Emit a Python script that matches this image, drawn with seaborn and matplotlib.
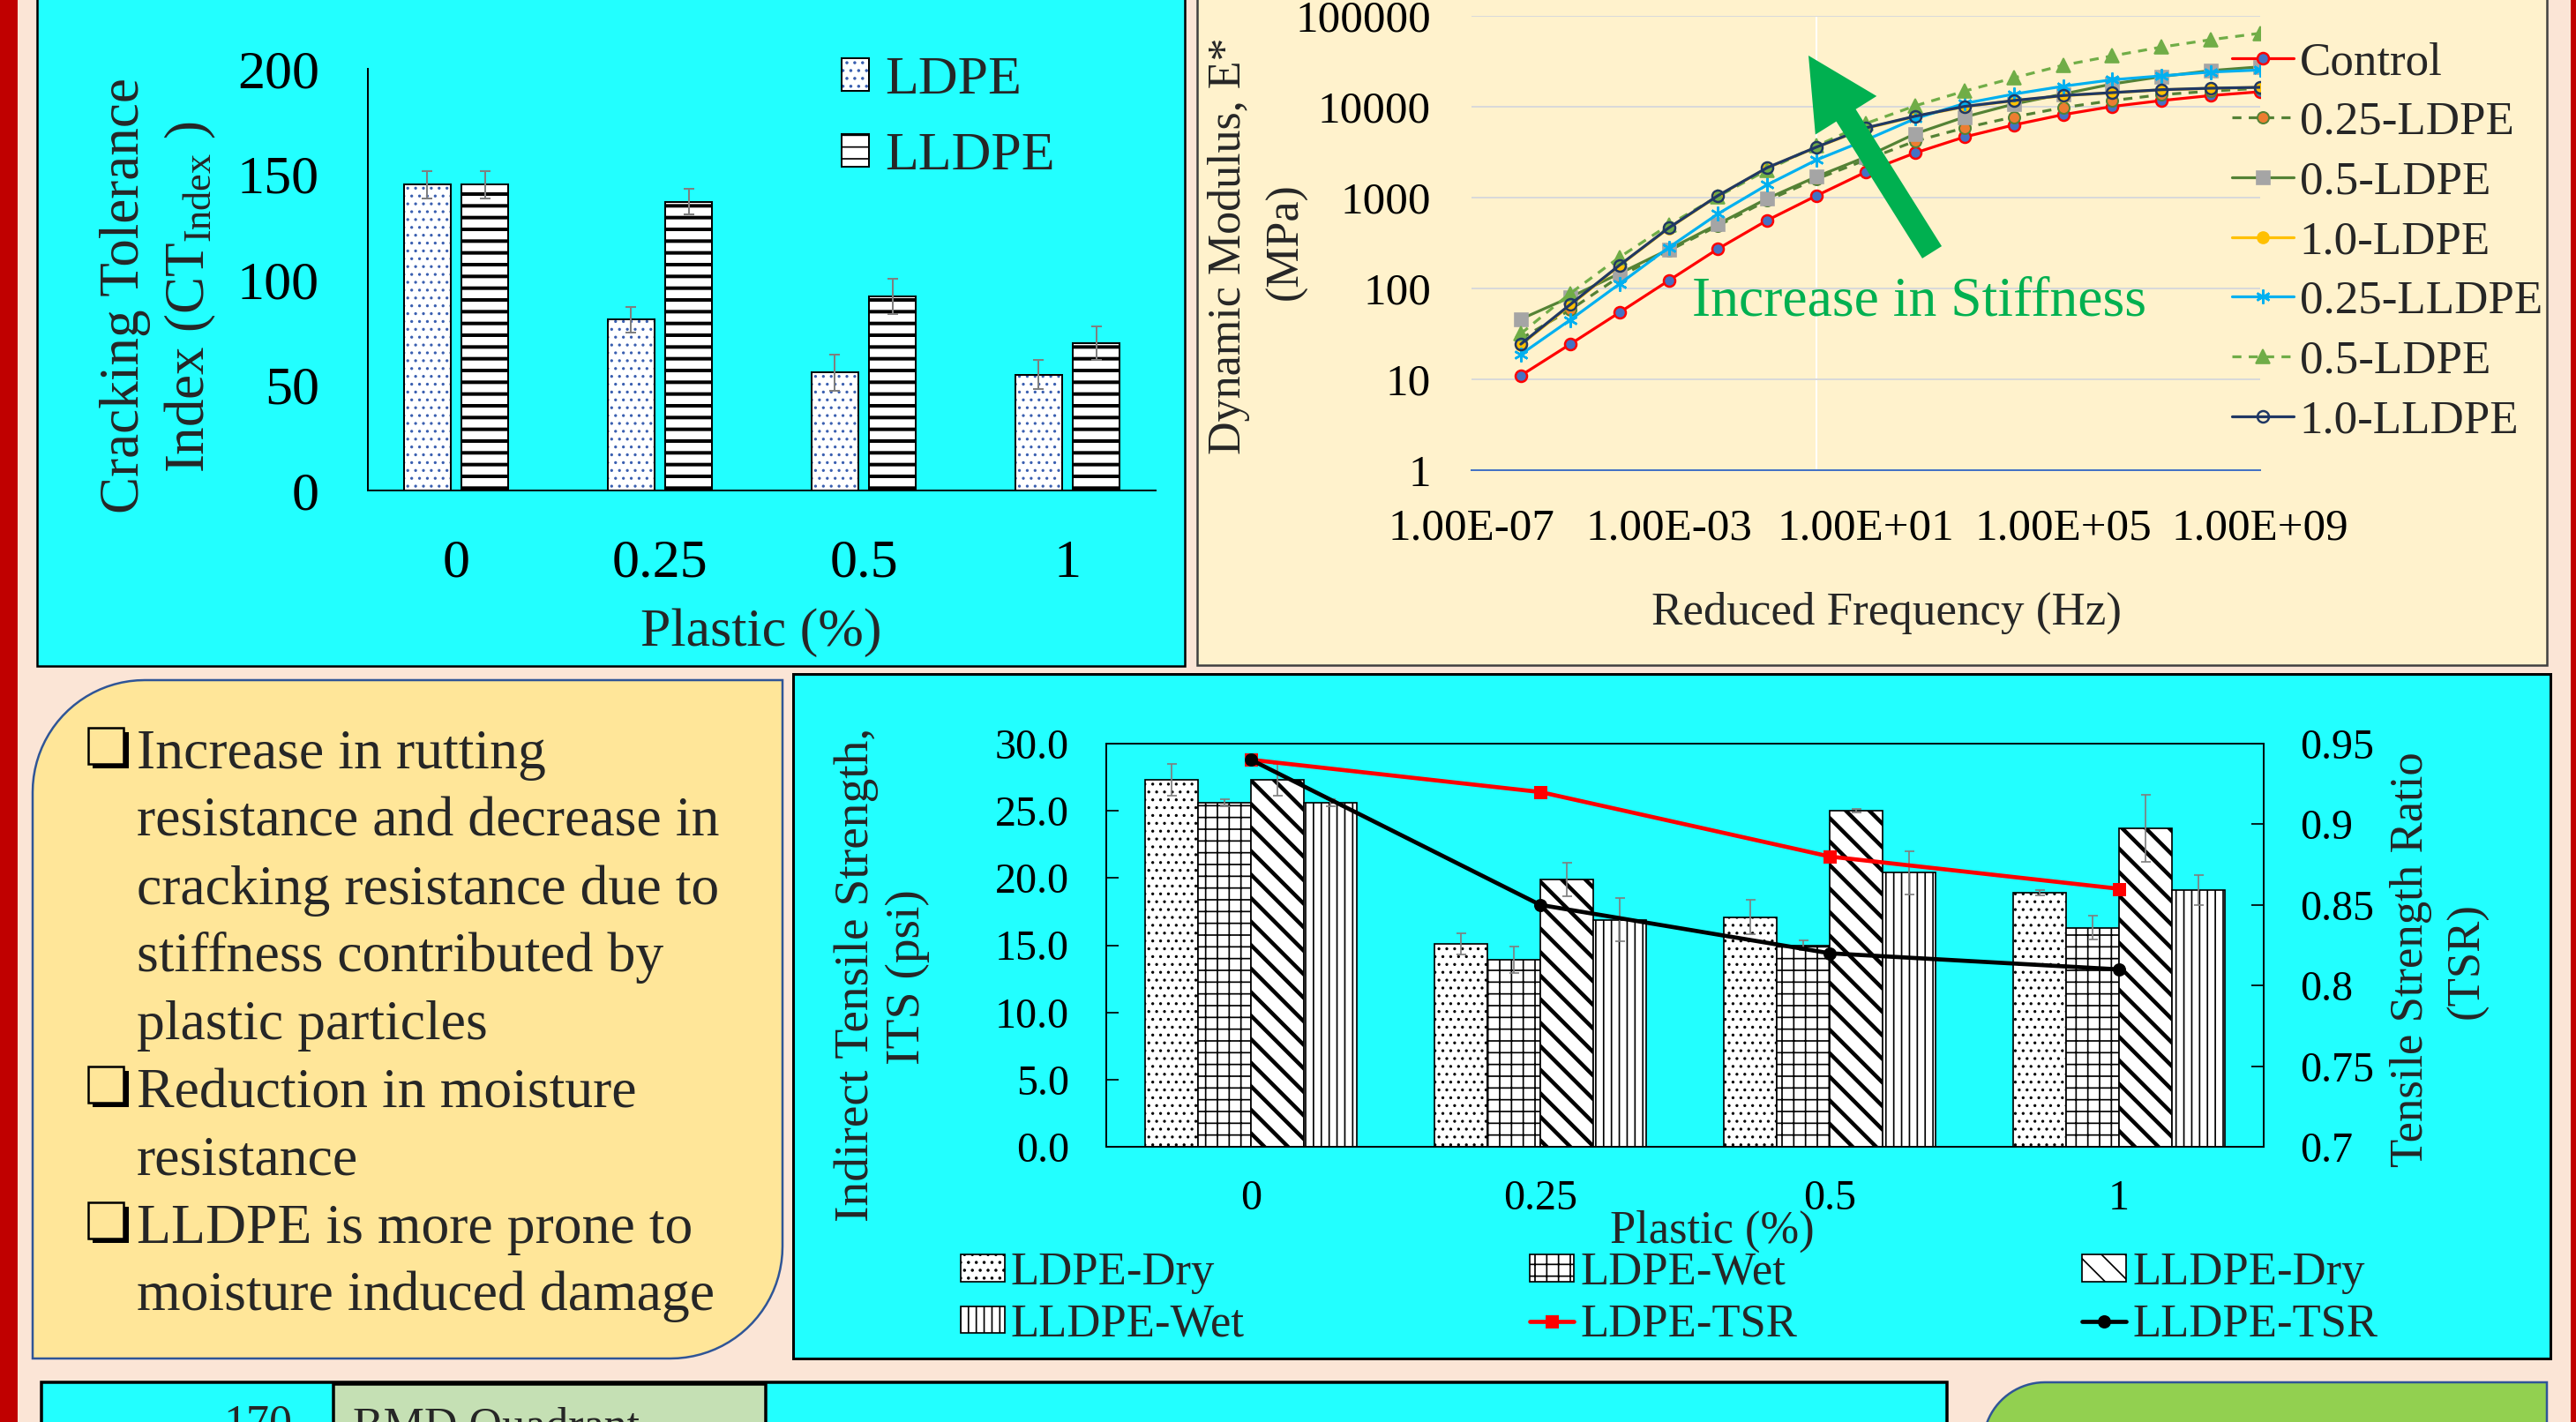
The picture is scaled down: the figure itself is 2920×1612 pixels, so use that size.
import numpy as np
import pandas as pd
import matplotlib
matplotlib.use("Agg")
import matplotlib.pyplot as plt
import seaborn as sns
from matplotlib.patches import Rectangle, PathPatch, FancyArrow, Patch
from matplotlib.path import Path
from matplotlib.ticker import NullLocator


# poster section: CT index, dynamic modulus master curves, ITS / TSR

W, H = 2920, 1612
DPI = 160

plastic = ['0', '0.25', '0.5', '1']

# cracking tolerance index
ct_ldpe = [145, 81, 56, 55]
ct_ldpe_err = [6.5, 6.2, 8.6, 7.0]
ct_lldpe = [145, 137, 92, 70]
ct_lldpe_err = [6.5, 6.0, 8.5, 8.0]

# dynamic modulus master curves (MPa)
freq = [1e-6, 1e-5, 1e-4, 1e-3, 1e-2, 1e-1, 1e0, 1e1,
        1e2, 1e3, 1e4, 1e5, 1e6, 1e7, 1e8, 1e9]
e_control = [11.0, 24.3, 54.3, 122, 273, 563, 1050, 1914,
             3105, 4645, 6300, 8180, 10070, 11700, 13280, 14630]
e_ldpe025 = [28, 58, 135, 260, 490, 930, 1600, 2600,
             4180, 5850, 7710, 9780, 11700, 13580, 14850, 16000]
e_ldpe05 = [46, 80, 146, 269, 511, 977, 1700, 2800,
            5040, 7700, 10700, 13800, 17800, 21500, 25000, 27500]
e_ldpe10 = [24.0, 65, 178, 460, 1045, 2120, 3580, 5800,
            7800, 10000, 11650, 13200, 14250, 15350, 15950, 16300]
e_lldpe025 = [18.8, 45, 112, 282, 663, 1385, 2600, 4300,
              7400, 10860, 13770, 16800, 19800, 21870, 24100, 25400]
e_lldpe05 = [31.8, 88, 220, 500, 1030, 2014, 3700, 6540,
             10230, 14850, 20760, 28600, 36300, 45400, 54700, 64400]
e_lldpe10 = [24.4, 66.4, 180, 464, 1052, 2137, 3600, 5850,
             7870, 10070, 11700, 13280, 14300, 15400, 16000, 16360]
freq_ticks = [1e-7, 1e-3, 1e1, 1e5, 1e9]
freq_tick_labels = ['1.00E-07', '1.00E-03', '1.00E+01', '1.00E+05', '1.00E+09']
mod_ticks = [1, 10, 100, 1000, 10000, 100000]

# indirect tensile strength (psi) and TSR
its_ldpe_dry = [27.3, 15.1, 17.1, 18.9]
its_ldpe_dry_err = [1.2, 0.8, 1.25, 0.2]
its_ldpe_wet = [25.6, 13.9, 15.0, 16.3]
its_ldpe_wet_err = [0.25, 1.0, 0.35, 0.9]
its_lldpe_dry = [27.3, 19.9, 25.0, 23.7]
its_lldpe_dry_err = [1.2, 1.25, 0.15, 2.5]
its_lldpe_wet = [25.6, 16.9, 20.4, 19.1]
its_lldpe_wet_err = [0.25, 1.6, 1.6, 1.1]
tsr_ldpe = [0.94, 0.92, 0.88, 0.86]
tsr_lldpe = [0.94, 0.85, 0.82, 0.81]

box_lines = ['Increase in rutting', 'resistance and decrease in',
             'cracking resistance due to', 'stiffness contributed by',
             'plastic particles', 'Reduction in moisture', 'resistance',
             'LLDPE is more prone to', 'moisture induced damage']
bullet_rows = [0, 5, 7]


def pt(px):
    return px * 72.0 / DPI


def fig_rect(left, top, right, bottom):
    return [left / W, 1 - bottom / H, (right - left) / W, (bottom - top) / H]


def ptext(x, y, s, **kw):
    return fig.text(x / W, 1 - y / H, s, **kw)


def corner_box(x0, y0, x1, y1, r, br=True):
    t = np.linspace(np.pi, 1.5 * np.pi, 24)
    verts = [(x0 + r + r * np.cos(a), y0 + r + r * np.sin(a)) for a in t]
    verts.append((x1, y0))
    if br:
        t = np.linspace(0, 0.5 * np.pi, 24)
        verts += [(x1 - r + r * np.cos(a), y1 - r + r * np.sin(a)) for a in t]
    else:
        verts.append((x1, y1))
    verts.append((x0, y1))
    verts.append(verts[0])
    codes = [Path.MOVETO] + [Path.LINETO] * (len(verts) - 2) + [Path.CLOSEPOLY]
    return Path(verts, codes)


def set_hatch(p, hatch, color, hlw):
    p.set_hatch(hatch)
    p.set_edgecolor(color)
    if hasattr(p, 'set_hatch_linewidth'):
        p.set_hatch_linewidth(hlw)


sns.set_style('white')
plt.rcParams['font.family'] = ['Liberation Serif', 'DejaVu Serif']
plt.rcParams['mathtext.fontset'] = 'custom'
plt.rcParams['mathtext.rm'] = 'Liberation Serif'
plt.rcParams['mathtext.it'] = 'Liberation Serif:italic'
plt.rcParams['hatch.linewidth'] = pt(1.7)

fig = plt.figure(figsize=(W / DPI, H / DPI), dpi=DPI)
fig.patch.set_facecolor('#FBE5D6')

# ---- background panels ----
bg = fig.add_axes([0, 0, 1, 1], zorder=-5)
bg.set_xlim(0, W)
bg.set_ylim(H, 0)
bg.axis('off')

cyan = '#22FFFF'
bg.add_patch(Rectangle((0, -5), 20, H + 10, fc='#C00000', ec='none'))
bg.add_patch(Rectangle((2914, -5), 10, H + 10, fc='#C00000', ec='none'))
bg.add_patch(Rectangle((42, -10), 1301, 765, fc=cyan, ec='black', lw=pt(2.5)))
bg.add_patch(Rectangle((1357, -10), 1530, 764, fc='#FFF2CC', ec='#404040', lw=pt(2.5)))
bg.add_patch(PathPatch(corner_box(37, 771, 887, 1540, 127), fc='#FFE699',
                       ec='#2F5597', lw=pt(2.5)))
bg.add_patch(Rectangle((899, 764), 1992, 776, fc=cyan, ec='black', lw=pt(3)))
bg.add_patch(Rectangle((47, 1567), 2160, 80, fc=cyan, ec='black', lw=pt(3.5)))
bg.add_patch(Rectangle((378, 1569), 490, 80, fc='#C5E0B4', ec='black', lw=pt(3.5)))
bg.add_patch(PathPatch(corner_box(2248, 1567, 2887, 1660, 70, br=False),
                       fc='#92D050', ec='#2F5597', lw=pt(2.5)))

# ---- chart 1: cracking tolerance index ----
ax1 = fig.add_axes(fig_rect(417, 78, 1310, 556))
ax1.set_facecolor('none')
ct_df = pd.DataFrame({'plastic': plastic * 2,
                      'ct': ct_ldpe + ct_lldpe,
                      'mix': ['LDPE'] * 4 + ['LLDPE'] * 4})
sns.barplot(data=ct_df, x='plastic', y='ct', hue='mix', order=plastic,
            hue_order=['LDPE', 'LLDPE'], palette=['white', 'white'],
            saturation=1, width=0.568, gap=0.19, errorbar=None,
            legend=False, ax=ax1)
dot_blue = '#3A5FB0'
for bar in ax1.containers[0]:
    bar.set_linewidth(0)
    set_hatch(bar, '...', dot_blue, pt(1.5))
    ax1.add_patch(Rectangle(bar.get_xy(), bar.get_width(), bar.get_height(),
                            fill=False, ec='black', lw=pt(2), zorder=1.5))
for bar in ax1.containers[1]:
    bar.set_linewidth(pt(2))
    set_hatch(bar, '--', 'black', pt(4))
for cont, vals, errs in ((ax1.containers[0], ct_ldpe, ct_ldpe_err),
                         (ax1.containers[1], ct_lldpe, ct_lldpe_err)):
    xs = [b.get_x() + b.get_width() / 2 for b in cont]
    ax1.errorbar(xs, vals, yerr=errs, fmt='none', ecolor='#7F7F7F',
                 elinewidth=pt(2), capsize=pt(6.3), capthick=pt(2), zorder=3)
ax1.set_ylim(0, 200)
ax1.set_yticks([0, 50, 100, 150, 200])
ax1.set_xlabel('')
ax1.set_ylabel('')
sns.despine(ax=ax1)
for s in ('left', 'bottom'):
    ax1.spines[s].set_color('black')
    ax1.spines[s].set_linewidth(pt(2))
ax1.tick_params(axis='both', length=0, labelsize=pt(62), colors='black')
ax1.tick_params(axis='y', pad=pt(55))
ax1.tick_params(axis='x', pad=pt(55))

h_ldpe = (Patch(fc='white', ec=dot_blue, hatch='...', lw=0),
          Patch(fill=False, ec='black', lw=pt(2)))
h_lldpe = Patch(fc='white', ec='black', hatch='--', lw=pt(2))
if hasattr(h_lldpe, 'set_hatch_linewidth'):
    h_lldpe.set_hatch_linewidth(pt(4))
fig.legend([h_ldpe, h_lldpe], ['LDPE', 'LLDPE'], loc='upper left',
           bbox_to_anchor=(954 / W, 1 - 64 / H), frameon=False,
           fontsize=pt(62), borderpad=0, borderaxespad=0,
           handlelength=0.5, handleheight=0.55, handletextpad=0.29,
           labelspacing=0.49)

ptext(142, 335, 'Cracking Tolerance', rotation=90, ha='center', va='center',
      fontsize=pt(63))
ptext(216, 336, 'Index (CT$_{\\mathrm{Index}}$ )', rotation=90, ha='center',
      va='center', fontsize=pt(63))
ptext(863, 732, 'Plastic (%)', ha='center', va='baseline', fontsize=pt(62))

# ---- chart 2: dynamic modulus ----
ax2 = fig.add_axes(fig_rect(1668, 18, 2562, 533))
ax2.set_facecolor('none')
ax2.set_xscale('log')
ax2.set_yscale('log')
ax2.axvline(1, color='white', lw=pt(2), zorder=0.5)

lw = pt(3.2)
series = [
    ('Control', e_control, dict(color='#FF0000', marker='o', markersize=pt(13),
                                markerfacecolor='#4472C4', markeredgecolor='#FF0000',
                                markeredgewidth=pt(2.5))),
    ('0.25-LDPE', e_ldpe025, dict(color='#548235', linestyle=(0, (3.2, 2.6)),
                                  marker='o', markersize=pt(13),
                                  markerfacecolor='#ED7D31', markeredgecolor='#548235',
                                  markeredgewidth=pt(2))),
    ('0.5-LDPE', e_ldpe05, dict(color='#548235', marker='s', markersize=pt(15),
                                markerfacecolor='#A5A5A5', markeredgecolor='#A5A5A5')),
    ('1.0-LDPE', e_ldpe10, dict(color='#FFC000', marker='o', markersize=pt(13),
                                markerfacecolor='#FFC000', markeredgecolor='#FFC000')),
    ('0.25-LLDPE', e_lldpe025, dict(color='#00B0F0', marker=(6, 2, 0),
                                    markersize=pt(16), markeredgecolor='#00B0F0',
                                    markeredgewidth=pt(2.5))),
    ('0.5-LDPE', e_lldpe05, dict(color='#70AD47', linestyle=(0, (3.2, 2.6)),
                                 marker='^', markersize=pt(16),
                                 markerfacecolor='#70AD47', markeredgecolor='#70AD47')),
    ('1.0-LLDPE', e_lldpe10, dict(color='#203864', marker='o', markersize=pt(13),
                                  markerfacecolor='none', markeredgecolor='#203864',
                                  markeredgewidth=pt(2.5))),
]
for name, vals, kw in series:
    sns.lineplot(x=freq, y=vals, ax=ax2, label=name, lw=lw, sort=False,
                 errorbar=None, legend=False, **kw)

ax2.set_xlim(1e-7, 1e9)
ax2.set_ylim(1, 1e5)
ax2.set_xticks(freq_ticks, labels=freq_tick_labels)
ax2.set_yticks(mod_ticks, labels=[str(v) for v in mod_ticks])
ax2.xaxis.set_minor_locator(NullLocator())
ax2.yaxis.set_minor_locator(NullLocator())
ax2.set_xlabel('')
ax2.set_ylabel('')
ax2.yaxis.grid(True, color='#D9D9D9', lw=pt(2))
ax2.xaxis.grid(False)
ax2.set_axisbelow(True)
for s in ('left', 'right', 'top'):
    ax2.spines[s].set_visible(False)
ax2.spines['bottom'].set_color('#4472C4')
ax2.spines['bottom'].set_linewidth(pt(2))
ax2.tick_params(axis='both', length=0, labelsize=pt(51), colors='black')
ax2.tick_params(axis='y', pad=pt(46))
ax2.tick_params(axis='x', pad=pt(43))

h2, l2 = ax2.get_legend_handles_labels()
fig.legend(h2, l2, loc='upper left', bbox_to_anchor=(2530 / W, 1 - 47 / H),
           frameon=False, fontsize=pt(53), borderpad=0, borderaxespad=0,
           handlelength=1.32, handletextpad=0.13, labelspacing=0.37)

ptext(1393, 279, 'Dynamic Modulus, E*', rotation=90, ha='center', va='center',
      fontsize=pt(52))
ptext(1458, 274, '(MPa)', rotation=90, ha='center', va='center', fontsize=pt(52))
ptext(2138, 708, 'Reduced Frequency (Hz)', ha='center', va='baseline',
      fontsize=pt(53))
ptext(1918, 357, 'Increase in Stiffness', ha='left', va='baseline',
      fontsize=pt(63.6), color='#00B050', zorder=6)

# ---- chart 3: ITS bars and TSR lines ----
ax3 = fig.add_axes(fig_rect(1254, 843, 2566, 1300))
ax3.set_facecolor('none')
its_mix = ['LDPE-Dry', 'LDPE-Wet', 'LLDPE-Dry', 'LLDPE-Wet']
its_df = pd.DataFrame({
    'plastic': plastic * 4,
    'its': its_ldpe_dry + its_ldpe_wet + its_lldpe_dry + its_lldpe_wet,
    'mix': [m for m in its_mix for _ in plastic]})
sns.barplot(data=its_df, x='plastic', y='its', hue='mix', order=plastic,
            hue_order=its_mix, palette=['white'] * 4, saturation=1,
            width=0.732, errorbar=None, legend=False, ax=ax3)
its_hatch = [('...', pt(1.5)), ('++', pt(1.7)), ('\\\\', pt(4.5)), ('|||', pt(1.7))]
its_err = [its_ldpe_dry_err, its_ldpe_wet_err, its_lldpe_dry_err, its_lldpe_wet_err]
its_vals = [its_ldpe_dry, its_ldpe_wet, its_lldpe_dry, its_lldpe_wet]
for cont, (hatch, hlw), vals, errs in zip(ax3.containers, its_hatch, its_vals, its_err):
    for bar in cont:
        bar.set_linewidth(pt(1.7))
        set_hatch(bar, hatch, 'black', hlw)
    xs = [b.get_x() + b.get_width() / 2 for b in cont]
    ax3.errorbar(xs, vals, yerr=errs, fmt='none', ecolor='#7F7F7F',
                 elinewidth=pt(1.7), capsize=pt(5.5), capthick=pt(1.7), zorder=3)

ax3.set_ylim(0, 30)
ax3.set_yticks([0, 5, 10, 15, 20, 25, 30])
ax3.set_yticklabels(['%.1f' % v for v in [0, 5, 10, 15, 20, 25, 30]])
ax3.set_xlabel('')
ax3.set_ylabel('')

ax3b = ax3.twinx()
pos = list(range(len(plastic)))
sns.lineplot(x=pos, y=tsr_ldpe, ax=ax3b, color='#FF0000', lw=pt(4.7),
             marker='s', markersize=pt(15), markeredgewidth=0,
             label='LDPE-TSR', legend=False, errorbar=None)
sns.lineplot(x=pos, y=tsr_lldpe, ax=ax3b, color='black', lw=pt(4.7),
             marker='o', markersize=pt(15), markeredgewidth=0,
             label='LLDPE-TSR', legend=False, errorbar=None)
ax3b.set_ylim(0.7, 0.95)
tsr_ticks = [0.7, 0.75, 0.8, 0.85, 0.9, 0.95]
ax3b.set_yticks(tsr_ticks, labels=['%g' % v for v in tsr_ticks])
ax3b.set_ylabel('')
ax3.set_xlim(-0.5, len(plastic) - 0.5)

for a in (ax3, ax3b):
    for s in a.spines.values():
        s.set_visible(True)
        s.set_color('black')
        s.set_linewidth(pt(1.7))
ax3.tick_params(axis='y', direction='in', length=pt(14), width=pt(1.7),
                labelsize=pt(48), pad=pt(42), colors='black', left=True)
ax3.tick_params(axis='x', length=0, labelsize=pt(48), pad=pt(37), colors='black')
ax3b.tick_params(axis='y', direction='in', length=pt(14), width=pt(1.7),
                 labelsize=pt(48), pad=pt(41), colors='black', right=True)

hb = []
for hatch, hlw in its_hatch:
    p = Patch(fc='white', ec='black', hatch=hatch, lw=pt(1.7))
    if hasattr(p, 'set_hatch_linewidth'):
        p.set_hatch_linewidth(hlw)
    hb.append(p)
hl = ax3b.get_lines()
fig.legend([hb[0], hb[3], hb[1], hl[0], hb[2], hl[1]],
           ['LDPE-Dry', 'LLDPE-Wet', 'LDPE-Wet', 'LDPE-TSR', 'LLDPE-Dry', 'LLDPE-TSR'],
           loc='upper left', bbox_to_anchor=(1089 / W, 1 - 1419 / H), ncol=3,
           frameon=False, fontsize=pt(52.6), borderpad=0, borderaxespad=0,
           handlelength=0.95, handleheight=0.51, handletextpad=0.13,
           columnspacing=6.15, labelspacing=0.2)

ptext(971, 1105, 'Indirect Tensile Strength,', rotation=90, ha='center',
      va='center', fontsize=pt(55.5))
ptext(1029, 1108, 'ITS (psi)', rotation=90, ha='center', va='center',
      fontsize=pt(55.5))
ptext(2733, 1088, 'Tensile Strength Ratio', rotation=90, ha='center',
      va='center', fontsize=pt(52.8))
ptext(2797, 1089, '(TSR)', rotation=90, ha='center', va='center',
      fontsize=pt(52.8))
ptext(1941, 1409, 'Plastic (%)', ha='center', va='baseline', fontsize=pt(52.5))

# ---- text box ----
for i, line in enumerate(box_lines):
    base = 871 + 76.8 * i
    ptext(155, base, line, ha='left', va='baseline', fontsize=pt(63.8))
    if i in bullet_rows:
        bg.add_patch(Rectangle((105, base - 41), 41, 41, fc='black', ec='none'))
        bg.add_patch(Rectangle((100, base - 46), 40, 41, fc='#FFE699',
                               ec='black', lw=pt(2.5)))

# bottom row, cut off by the frame
ptext(331, 1629, '170', ha='right', va='baseline', fontsize=pt(52))
ptext(400, 1631, 'BMD Quadrant', ha='left', va='baseline', fontsize=pt(52))

# ---- arrow overlay ----
top = fig.add_axes([0, 0, 1, 1], zorder=20)
top.set_xlim(0, W)
top.set_ylim(H, 0)
top.axis('off')
top.patch.set_alpha(0)
top.add_patch(FancyArrow(2190, 286, 2050 - 2190, 63 - 286, width=26,
                         head_width=82, head_length=80,
                         length_includes_head=True, color='#00B050', lw=0))

fig.savefig('out.png', dpi=DPI, facecolor=fig.get_facecolor())
